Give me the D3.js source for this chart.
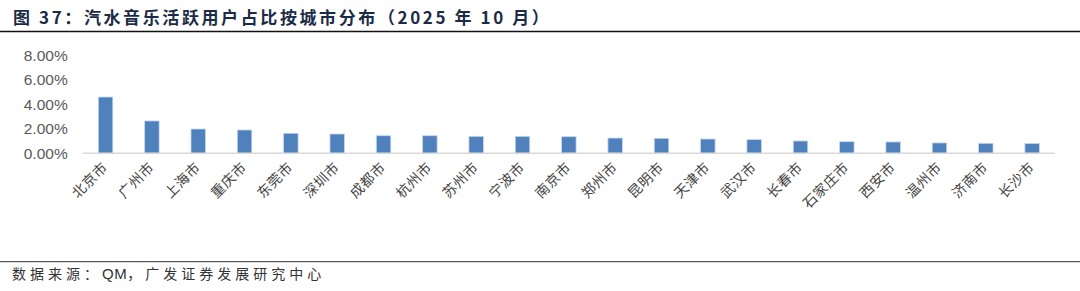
<!DOCTYPE html>
<html>
<head>
<meta charset="utf-8">
<script src="https://cdn.jsdelivr.net/npm/d3@7"></script>
<style>
  body { margin: 0; background: #fff; }
  svg { display: block; }
</style>
</head>
<body>
<div class="chart"></div>
<script>
// Data
const cities = ["北京市", "广州市", "上海市", "重庆市", "东莞市", "深圳市", "成都市", "杭州市", "苏州市", "宁波市", "南京市",
  "郑州市", "昆明市", "天津市", "武汉市", "长春市", "石家庄市", "西安市", "温州市", "济南市", "长沙市"];
const shares = [0.0461, 0.0265, 0.0199, 0.0191, 0.0164, 0.0158, 0.0144, 0.0144, 0.0139, 0.0139, 0.0136,
  0.0125, 0.0123, 0.0117, 0.0112, 0.0101, 0.0095, 0.0093, 0.0085, 0.0082, 0.0081];
const yTicks = [0, 0.02, 0.04, 0.06, 0.08];

const title = "图 37：汽水音乐活跃用户占比按城市分布（2025 年 10 月）";
const sourceParts = [
  { text: "数据来源：", spacing: 4 },
  { text: "QM", spacing: 0.5 },
  { text: "，广发证券发展研究中心", spacing: 4 },
];

const width = 1080, height = 291;

const svg = d3.select(".chart")
  .append("svg")
  .attr("width", width)
  .attr("height", height);

// Title and rule
svg.append("text")
  .attr("x", 13)
  .attr("y", 24)
  .attr("font-family", "'Noto Sans CJK SC', 'Liberation Sans', sans-serif")
  .attr("font-size", 17)
  .attr("font-weight", "bold")
  .attr("letter-spacing", 2.6)
  .attr("fill", "#1c2b45")
  .text(title);

svg.append("line")
  .attr("x1", 0).attr("x2", width)
  .attr("y1", 31.5).attr("y2", 31.5)
  .attr("stroke", "#111")
  .attr("stroke-width", 1.5);

// Scales
const xScale = d3.scaleBand()
  .domain(cities)
  .range([82.7, 1055])
  .paddingInner(0.687)
  .paddingOuter(0.337);

const yScale = d3.scaleLinear()
  .domain([0, 0.08])
  .range([153.3, 55.6]);

// Y axis (labels only)
const yAxis = svg.append("g")
  .attr("class", "y-axis")
  .attr("transform", "translate(82.7,0)")
  .call(d3.axisLeft(yScale).tickValues(yTicks).tickFormat(d3.format(".2%")).tickSize(0).tickPadding(15));
yAxis.select(".domain").remove();
yAxis.selectAll("text")
  .attr("font-family", "'Liberation Sans', Arial, sans-serif")
  .attr("font-size", 15.5)
  .attr("fill", "#595959");

// Bars
svg.append("g")
  .selectAll("rect")
  .data(cities)
  .join("rect")
  .attr("x", d => xScale(d))
  .attr("y", (d, i) => yScale(shares[i]))
  .attr("width", xScale.bandwidth())
  .attr("height", (d, i) => yScale(0) - yScale(shares[i]))
  .attr("fill", "#4f81bd")
  .attr("stroke", "#c9d9ee")
  .attr("stroke-width", 0.8);

// X axis line
svg.append("line")
  .attr("x1", 82.7).attr("x2", 1055)
  .attr("y1", yScale(0)).attr("y2", yScale(0))
  .attr("stroke", "#d9d9d9")
  .attr("stroke-width", 1.5);

// Rotated city labels
svg.append("g")
  .selectAll("text")
  .data(cities)
  .join("text")
  .attr("transform", d => `translate(${xScale(d) + xScale.bandwidth() / 2 + 3},${yScale(0) + 15}) rotate(-45)`)
  .attr("text-anchor", "end")
  .attr("font-family", "'Noto Sans CJK SC', sans-serif")
  .attr("font-size", 14)
  .attr("letter-spacing", 0.5)
  .attr("fill", "#444")
  .text(d => d);

// Footer rule and source
svg.append("line")
  .attr("x1", 0).attr("x2", width)
  .attr("y1", 261.7).attr("y2", 261.7)
  .attr("stroke", "#333")
  .attr("stroke-width", 1);

svg.append("text")
  .attr("x", 12)
  .attr("y", 279)
  .attr("font-family", "'Noto Sans CJK SC', 'Liberation Sans', sans-serif")
  .attr("font-size", 14)
  .attr("fill", "#333")
  .selectAll("tspan")
  .data(sourceParts)
  .join("tspan")
  .attr("letter-spacing", d => d.spacing)
  .attr("font-family", d => d.text === "QM" ? "'Liberation Sans', Arial, sans-serif" : null)
  .attr("font-size", d => d.text === "QM" ? 15 : null)
  .text(d => d.text);
</script>
</body>
</html>
